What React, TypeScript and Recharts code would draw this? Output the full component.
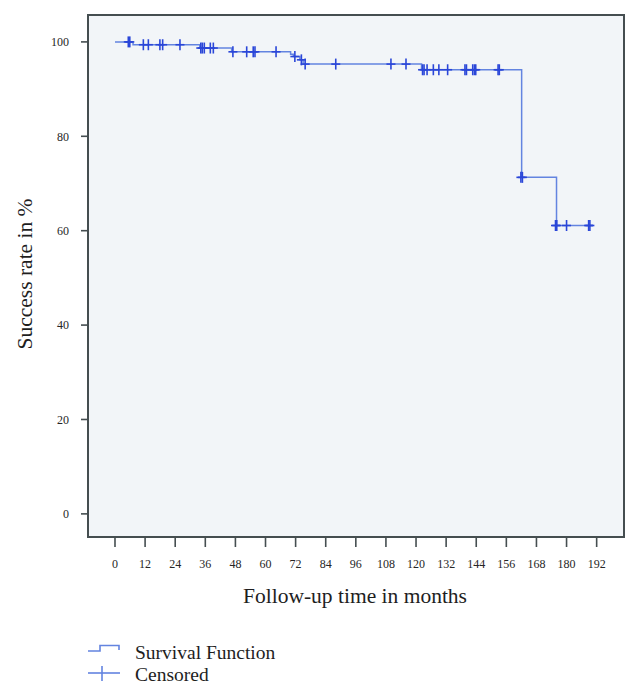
import React from 'react';
import { ComposedChart, Line, Scatter, XAxis, YAxis, ReferenceArea, Legend } from 'recharts';

// Kaplan-Meier survival steps (months, success %)
const stepTimes = [0, 7.2, 33.8, 46.5, 70.0, 71.1, 73.7, 75.0, 122.2, 162.1, 176.0, 190.5];
const stepValues = [100, 99.4, 98.7, 97.9, 97.4, 96.9, 96.2, 95.3, 94.1, 71.3, 61.1, 61.1];

// Censored observations (months, success %)
const censorTimes = [
  5.3, 5.9, 11.3, 13.3, 17.9, 19.0, 25.9,
  34.2, 34.8, 35.6, 38.0, 39.2,
  47.0, 52.5, 55.1, 55.8, 64.2,
  71.7, 74.3, 75.8,
  88.0, 110.0, 116.0,
  122.6, 123.2, 124.4, 126.9, 129.1, 132.6, 139.5, 140.1, 142.6, 143.3, 143.8, 152.7, 153.2,
  161.8, 162.4,
  175.6, 176.1, 180.0, 188.8, 189.3,
];
const censorValues = [
  100, 100, 99.4, 99.4, 99.4, 99.4, 99.4,
  98.7, 98.7, 98.7, 98.7, 98.7,
  97.9, 97.9, 97.9, 97.9, 97.9,
  96.9, 96.2, 95.3,
  95.3, 95.3, 95.3,
  94.1, 94.1, 94.1, 94.1, 94.1, 94.1, 94.1, 94.1, 94.1, 94.1, 94.1, 94.1, 94.1,
  71.3, 71.3,
  61.1, 61.1, 61.1, 61.1, 61.1,
];

const xTicks = [0, 12, 24, 36, 48, 60, 72, 84, 96, 108, 120, 132, 144, 156, 168, 180, 192];
const yTicks = [0, 20, 40, 60, 80, 100];

const X_DOMAIN: [number, number] = [-10.76, 202.9];
const Y_DOMAIN: [number, number] = [-4.9, 105.7];

const stepData = stepTimes.map((t, i) => ({ t, s: stepValues[i] }));
const censorData = censorTimes.map((t, i) => ({ t, s: censorValues[i] }));

const SERIF = '"Liberation Serif", "DejaVu Serif", serif';
const LINE_COLOR = '#6384e0';
const CENSOR_COLOR = '#2a46d8';
const AXIS_COLOR = '#454e50';
const TEXT_COLOR = '#1e1e1e';

const CensorMark = (props: any) => {
  const { cx, cy } = props;
  if (cx == null || cy == null) return null;
  return (
    <g>
      <line x1={cx} y1={cy - 5.5} x2={cx} y2={cy + 5.5} stroke={CENSOR_COLOR} strokeWidth={1.6} />
      <line x1={cx - 4.5} y1={cy} x2={cx + 4.5} y2={cy} stroke={CENSOR_COLOR} strokeWidth={1.6} />
    </g>
  );
};

const LegendContent = () => (
  <svg width={260} height={48} style={{ display: 'block', overflow: 'visible' }}>
    <polyline
      points="4,7 16,7 16,1.5 35,1.5 35,6"
      fill="none"
      stroke={LINE_COLOR}
      strokeWidth={1.6}
    />
    <text x={51} y={14.5} fontFamily={SERIF} fontSize={19.5} fill={TEXT_COLOR}>
      Survival Function
    </text>
    <line x1={4} y1={29} x2={36} y2={29} stroke={LINE_COLOR} strokeWidth={1.6} />
    <line x1={18} y1={22} x2={18} y2={37} stroke={LINE_COLOR} strokeWidth={1.6} />
    <text x={51} y={37} fontFamily={SERIF} fontSize={19.5} fill={TEXT_COLOR}>
      Censored
    </text>
  </svg>
);

export default function App() {
  return (
    <div style={{ width: 632, height: 682, position: 'relative' }}>
      <ComposedChart
        width={632}
        height={682}
        margin={{ top: 7, right: 16, bottom: 123, left: 0 }}
      >
        <ReferenceArea
          x1={X_DOMAIN[0]}
          x2={X_DOMAIN[1]}
          y1={Y_DOMAIN[0]}
          y2={Y_DOMAIN[1]}
          fill="#f2f5f8"
          fillOpacity={1}
          stroke={AXIS_COLOR}
          strokeWidth={2}
          ifOverflow="visible"
        />
        <XAxis
          type="number"
          dataKey="t"
          domain={X_DOMAIN}
          allowDataOverflow
          ticks={xTicks}
          interval={0}
          height={30}
          tickSize={10}
          tickMargin={12}
          axisLine={{ stroke: AXIS_COLOR, strokeWidth: 2 }}
          tickLine={{ stroke: AXIS_COLOR, strokeWidth: 1.6 }}
          tick={{ fill: '#262626', fontSize: 12, fontFamily: SERIF }}
          label={{
            content: () => (
              <text x={347} y={595} textAnchor="middle" fontFamily={SERIF} fontSize={21.5} fill={TEXT_COLOR}>
                Follow-up time in months
              </text>
            ),
          }}
        />
        <YAxis
          type="number"
          dataKey="s"
          domain={Y_DOMAIN}
          allowDataOverflow
          ticks={yTicks}
          interval={0}
          width={80}
          tickSize={7}
          tickMargin={12}
          axisLine={{ stroke: AXIS_COLOR, strokeWidth: 2 }}
          tickLine={{ stroke: AXIS_COLOR, strokeWidth: 1.6 }}
          tick={{ fill: '#262626', fontSize: 12, fontFamily: SERIF }}
          label={{
            content: () => (
              <text
                x={24}
                y={266}
                textAnchor="middle"
                transform="rotate(-90 24 266)"
                fontFamily={SERIF}
                fontSize={21.5}
                fill={TEXT_COLOR}
              >
                Success rate in %
              </text>
            ),
          }}
        />
        <Line
          data={stepData}
          dataKey="s"
          type="stepAfter"
          stroke={LINE_COLOR}
          strokeWidth={1.5}
          dot={false}
          activeDot={false}
          isAnimationActive={false}
          legendType="none"
        />
        <Scatter
          data={censorData}
          dataKey="s"
          shape={CensorMark}
          isAnimationActive={false}
          legendType="none"
        />
        <Legend
          layout="horizontal"
          align="center"
          verticalAlign="middle"
          content={LegendContent}
          wrapperStyle={{ top: 636, left: 76, width: 260, height: 48 }}
        />
      </ComposedChart>
    </div>
  );
}
